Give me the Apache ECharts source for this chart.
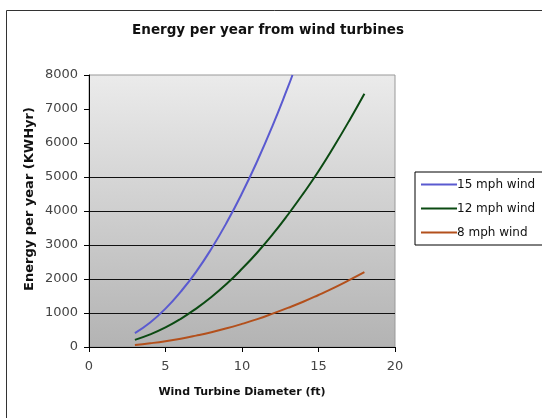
<!DOCTYPE html>
<html>
<head>
<meta charset="utf-8">
<script src="https://cdn.jsdelivr.net/npm/echarts@6/dist/echarts.min.js"></script>
<style>
html,body{margin:0;padding:0;background:#fff;}
#c{width:542px;height:418px;}
</style>
</head>
<body>
<div id="c"></div>
<script>
var diameters = [3, 4, 5, 6, 7, 8, 9, 10, 11, 12, 13, 14, 15, 16, 17, 18];
var blueDiameters = [3, 4, 5, 6, 7, 8, 9, 10, 11, 12, 13, 13.3];
var wind15 = [410, 720, 1130, 1630, 2210, 2890, 3660, 4520, 5470, 6510, 7640, 8000];
var wind12 = [210, 370, 575, 830, 1130, 1470, 1860, 2300, 2780, 3310, 3890, 4510, 5170, 5890, 6650, 7450];
var wind8 = [60, 110, 170, 245, 335, 435, 550, 680, 820, 980, 1150, 1330, 1530, 1740, 1965, 2200];
var seriesNames = ['15 mph wind', '12 mph wind', '8 mph wind'];
var xTicks = [0, 5, 10, 15, 20];
var yTicks = [0, 1000, 2000, 3000, 4000, 5000, 6000, 7000, 8000];
var yTitle = 'Energy per year (KWHyr)';

function pairs(xs, ys) { return ys.map(function (v, i) { return [xs[i], v]; }); }

var chart = echarts.init(document.getElementById('c'));
var font = 'DejaVu Sans, Liberation Sans, sans-serif';
chart.setOption({
  animation: false,
  backgroundColor: '#fff',
  textStyle: { fontFamily: font },
  title: {
    text: 'Energy per year from wind turbines',
    left: 263, top: 18, textAlign: 'center',
    textStyle: { fontSize: 13.5, fontWeight: 'bold', color: '#111', fontFamily: font }
  },
  graphic: [{
    type: 'rect', left: 4, top: 8, shape: { width: 545, height: 420 },
    style: { fill: 'none', stroke: '#333', lineWidth: 1 }, z: -1
  }, {
    type: 'text', x: 30, y: 199, rotation: Math.PI / 2,
    style: { text: yTitle, fontSize: 13, fontWeight: 'bold', fill: '#111', fontFamily: font, textAlign: 'center', textVerticalAlign: 'middle' }
  }],
  legend: {
    orient: 'vertical', left: 415, top: 172,
    data: seriesNames.map(function (n) { return { name: n, icon: 'rect' }; }),
    itemWidth: 36, itemHeight: 2, itemGap: 9,
    borderColor: '#000', borderWidth: 1, padding: [5, 30, 5, 6],
    textStyle: { fontSize: 12, color: '#111', fontFamily: font, padding: [0, 0, 0, -5], lineHeight: 15 }
  },
  grid: {
    left: 89, right: 147, top: 75, bottom: 71,
    show: true,
    borderColor: '#999', borderWidth: 1,
    backgroundColor: new echarts.graphic.LinearGradient(0, 0, 0, 1, [
      { offset: 0, color: '#ebebeb' },
      { offset: 1, color: '#b3b3b3' }
    ])
  },
  xAxis: {
    type: 'value', min: xTicks[0], max: xTicks[xTicks.length - 1], interval: 5,
    name: 'Wind Turbine Diameter (ft)', nameLocation: 'middle', nameGap: 40,
    nameTextStyle: { fontSize: 11, fontWeight: 'bold', color: '#111', fontFamily: font },
    axisLine: { show: true, lineStyle: { color: '#000', width: 1 } },
    axisTick: { show: true, length: 5, lineStyle: { color: '#000' } },
    axisLabel: { fontSize: 13, color: '#444', margin: 13 },
    splitLine: { show: false }
  },
  yAxis: {
    type: 'value', min: yTicks[0], max: yTicks[yTicks.length - 1], interval: 1000,
    axisLine: { show: true, lineStyle: { color: '#000', width: 1 } },
    axisTick: { show: true, length: 5, lineStyle: { color: '#000' } },
    axisLabel: { fontSize: 13, color: '#444', margin: 11, formatter: function (v) { return String(v); } },
    splitLine: { show: true, lineStyle: { width: 1, color: ['rgba(0,0,0,0)', '#111', '#111', '#111', '#111', '#111', 'rgba(0,0,0,0)', 'rgba(0,0,0,0)', 'rgba(0,0,0,0)'] } }
  },
  series: [
    { name: seriesNames[0], type: 'line', smooth: true, symbol: 'none', data: pairs(blueDiameters, wind15), lineStyle: { color: '#5a5ad0', width: 2 }, itemStyle: { color: '#5a5ad0' } },
    { name: seriesNames[1], type: 'line', smooth: true, symbol: 'none', data: pairs(diameters, wind12), lineStyle: { color: '#0b4a12', width: 2 }, itemStyle: { color: '#0b4a12' } },
    { name: seriesNames[2], type: 'line', smooth: true, symbol: 'none', data: pairs(diameters, wind8), lineStyle: { color: '#b3501c', width: 2 }, itemStyle: { color: '#b3501c' } }
  ]
});
</script>
</body>
</html>
